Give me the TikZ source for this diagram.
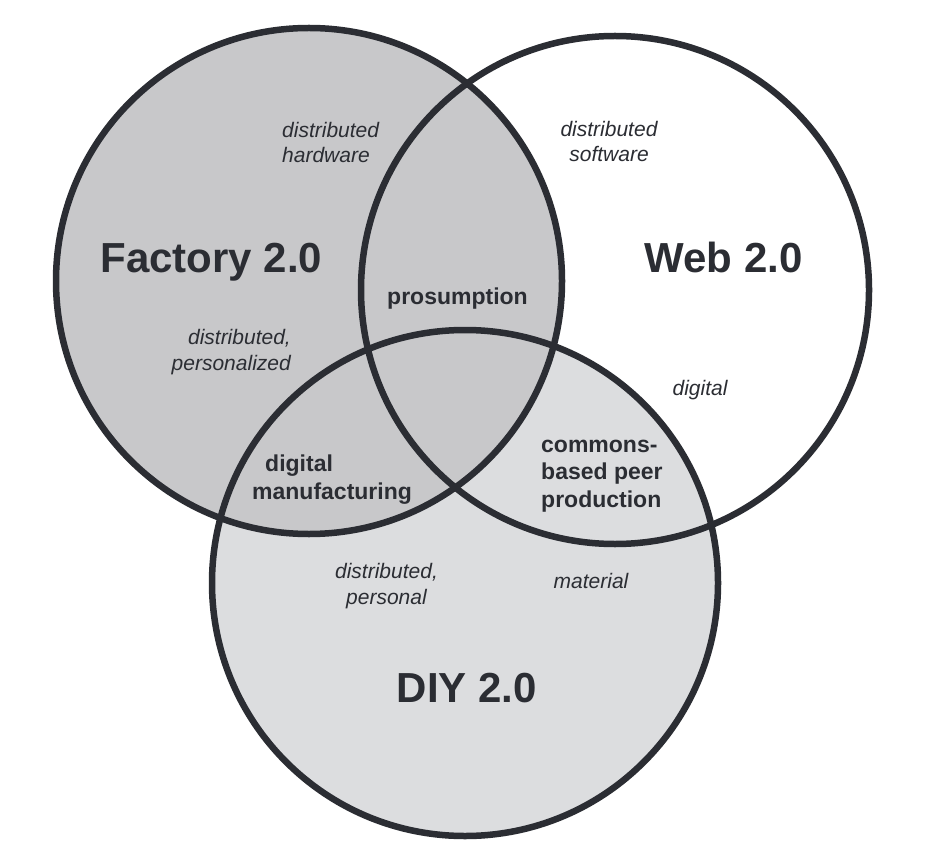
\documentclass[tikz,border=0pt]{standalone}
\usepackage{fontspec}
\setmainfont{Liberation Sans}
\usepackage{xcolor}
\usepackage{tikz}
\usetikzlibrary{positioning}

\definecolor{ink}{HTML}{2B2D33}
\definecolor{factorygray}{HTML}{C8C8CA}
\definecolor{diygray}{HTML}{DCDDDF}

\begin{document}
\begin{tikzpicture}[x=1pt,y=-1pt]
	\tikzstyle{ring}=[draw=ink, line width=6.5pt]
	\tikzstyle{every node}=[text=ink, inner sep=0pt]
	\tikzstyle{title}=[font=\fontsize{42}{50}\selectfont\bfseries, anchor=base]
	\tikzstyle{overlap}=[font=\fontsize{23}{27.5}\selectfont\bfseries]
	\tikzstyle{note}=[font=\fontsize{21}{25.5}\selectfont\itshape]
	\useasboundingbox (0,0) rectangle (952,866);
	\coordinate (factory) at (309,281);
	\coordinate (web) at (615,290);
	\coordinate (diy) at (465,583);
	% fills first, outlines on top
	\fill[white] (web) circle (254pt);
	\fill[diygray] (diy) circle (253pt);
	\fill[factorygray] (factory) circle (253pt);
	\foreach \c/\r in {factory/253pt, web/254pt, diy/253pt}
		\draw[ring] (\c) circle (\r);
	% circle titles
	\node[title] (factorytitle) at (211.5,273) {Factory 2.0};
	\node[title] (webtitle) at (723.5,273) {Web 2.0};
	\node[title] (diytitle) at (467,702) {DIY 2.0};
	% overlaps (multi-line nodes sit on their last baseline)
	\node[overlap, anchor=base] (prosumption) at (457.5,305) {prosumption};
	\node[overlap, anchor=base west, align=left] (digman) at (252,499) {\hspace*{13pt}digital\\manufacturing};
	\node[overlap, anchor=base west, align=left] (commons) at (541,507) {commons-\\based peer\\production};
	% side notes
	\node[note, anchor=base west, align=left] (hardware) at (282,163) {distributed\\hardware};
	\node[note, anchor=base, align=center] (software) at (609,162) {distributed\\software};
	\node[note, anchor=base east, align=right] (personalized) at (291,370) {distributed,\\personalized};
	\node[note, anchor=base] (digital) at (700,395) {digital};
	\node[note, anchor=base, align=center] (personal) at (386.5,604) {distributed,\\personal};
	\node[note, anchor=base] (material) at (591,588) {material};
\end{tikzpicture}
\end{document}
